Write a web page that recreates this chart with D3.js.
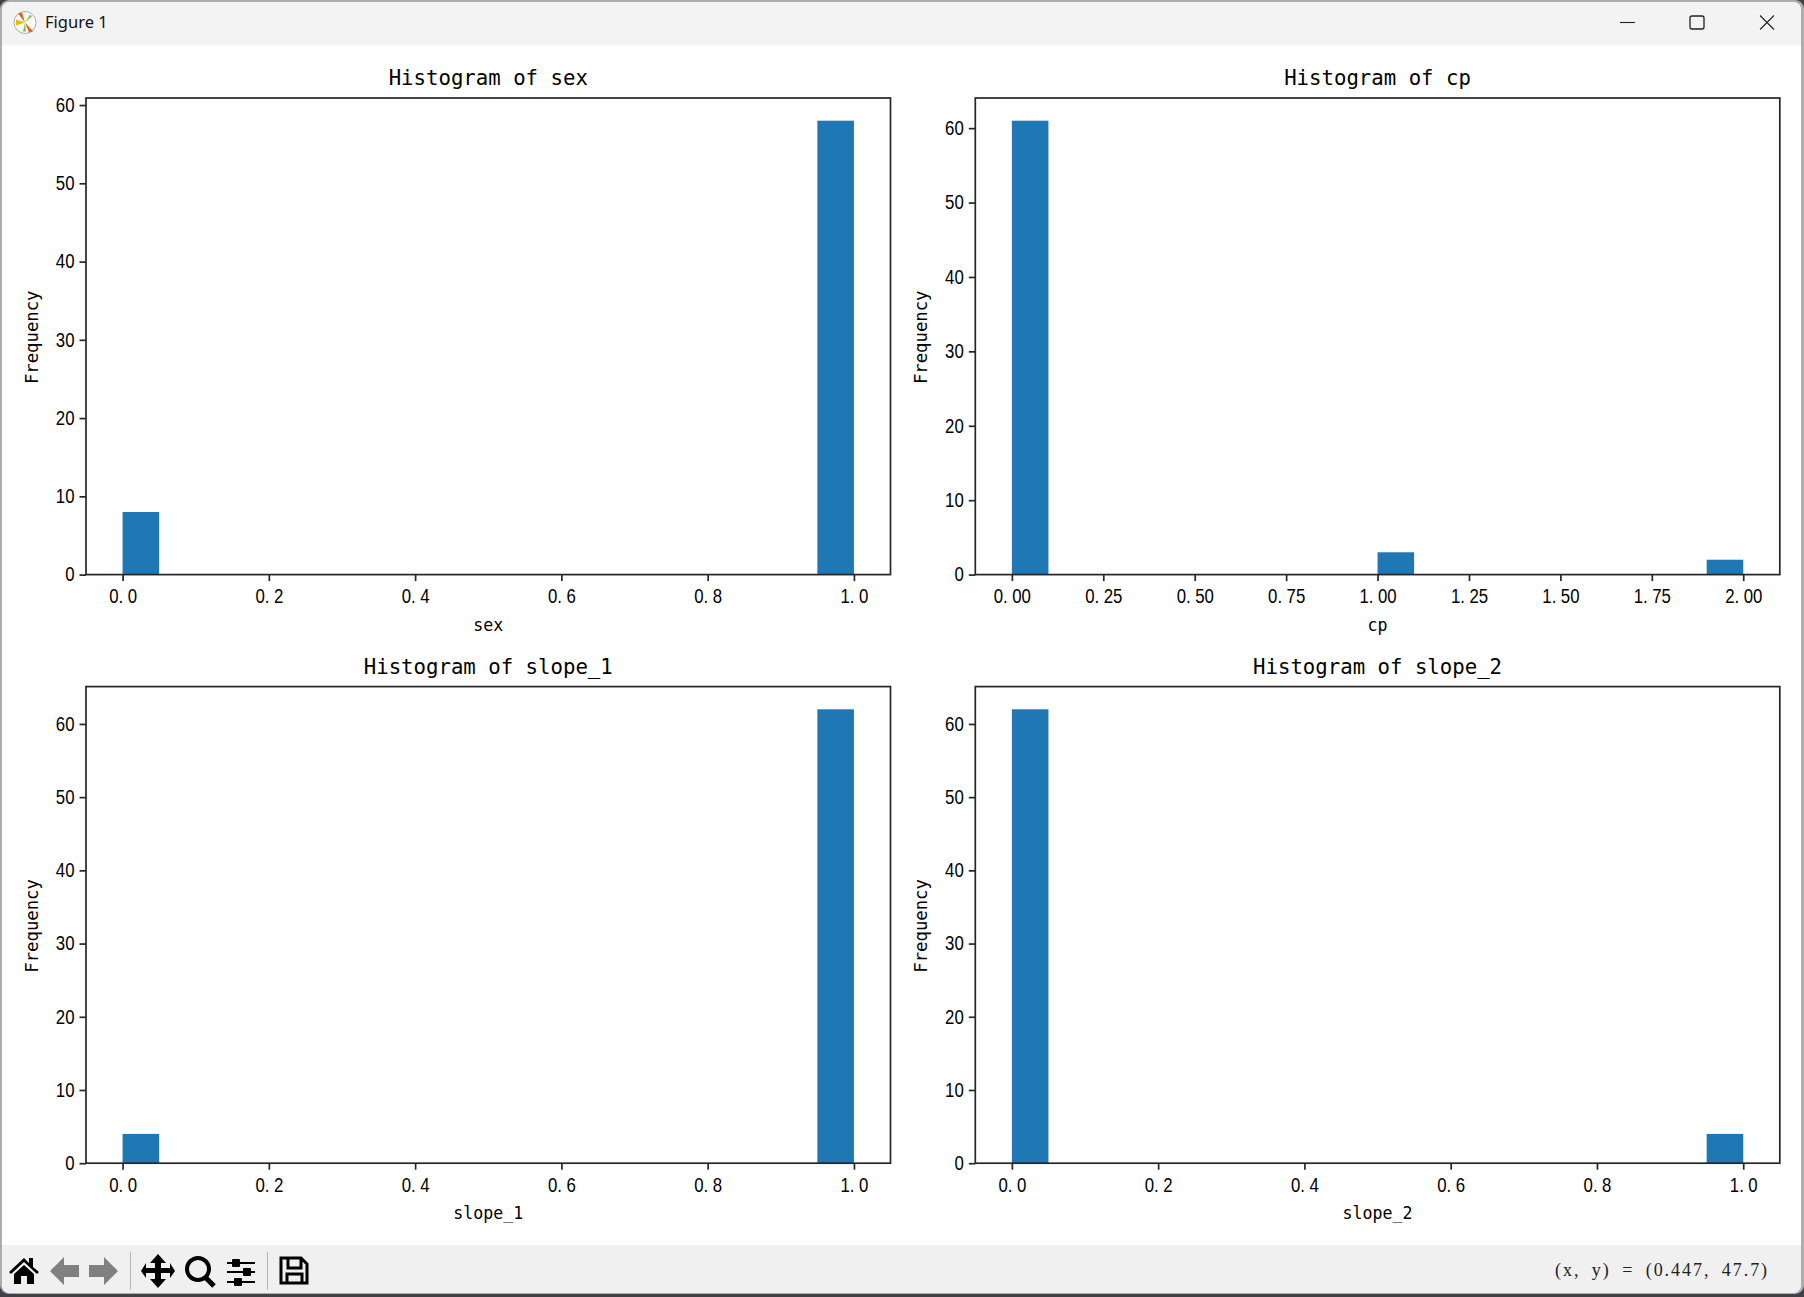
<!DOCTYPE html>
<html><head><meta charset="utf-8">
<script src="https://cdn.jsdelivr.net/npm/d3@7/dist/d3.min.js"></script>
<style>html,body{margin:0;padding:0;background:#3a3f45;overflow:hidden}svg{display:block}</style>
</head><body><svg id="c" width="1804" height="1297"></svg>
<script>
// ---------- data ----------
const titles = ["Histogram of sex","Histogram of cp","Histogram of slope_1","Histogram of slope_2"];
const xLabels = ["sex","cp","slope_1","slope_2"];
const sexBins = [[0,0.05,8],[0.95,1,58]];
const cpBins = [[0,0.1,61],[1,1.1,3],[1.9,2,2]];
const slope1Bins = [[0,0.05,4],[0.95,1,62]];
const slope2Bins = [[0,0.05,62],[0.95,1,4]];
const unitTicks = [0,0.2,0.4,0.6,0.8,1];
const cpTicks = [0,0.25,0.5,0.75,1,1.25,1.5,1.75,2];
const yTicks = [0,10,20,30,40,50,60];
const statusText = "(x, y) = (0.447, 47.7)";

const MONO = "'DejaVu Sans Mono'";
const SANS = "'Liberation Sans'";
const INK = "#262626";
const SQUEEZE = 0.8;
const svg = d3.select("#c");

// ---------- window chrome ----------
svg.append("rect").attr("x",0).attr("y",0).attr("width",1804).attr("height",1297).attr("fill","#3c4248");
svg.append("rect").attr("x",0).attr("y",0).attr("width",1804).attr("height",1294).attr("rx",9).attr("fill","#adadad");
svg.append("rect").attr("x",2).attr("y",2).attr("width",1799).attr("height",1291).attr("rx",8).attr("fill","#ffffff");
svg.append("path").attr("d","M2 45V10a8 8 0 0 1 8-8H1793a8 8 0 0 1 8 8V45Z").attr("fill","#f3f3f3");
svg.append("path").attr("d","M2 1245H1801V1285a8 8 0 0 1-8 8H10a8 8 0 0 1-8-8Z").attr("fill","#f0f0f0");

function cell(sel, adv){
  sel.each(function(){
    const n = this.textContent.length;
    d3.select(this).attr("textLength", n*adv).attr("lengthAdjust","spacingAndGlyphs");
  });
}
// full-width cell for the period, like the reference's face
function spacedTick(sel){
  sel.each(function(){
    const s = this.textContent, t = d3.select(this);
    const i = s.indexOf(".");
    if(i<0) return;
    t.text(null);
    t.append("tspan").text(s.slice(0,i+1));
    t.append("tspan").attr("dx",5.6).text(s.slice(i+1));
  });
}

// ---------- panels ----------
const panels = [
 {bins:sexBins, xd:[-0.05,1.05], xt:unitTicks, xf:d3.format(".1f"), ymax:58*1.05, l:86, t:98},
 {bins:cpBins, xd:[-0.1,2.1], xt:cpTicks, xf:d3.format(".2f"), ymax:61*1.05, l:975.3, t:98},
 {bins:slope1Bins, xd:[-0.05,1.05], xt:unitTicks, xf:d3.format(".1f"), ymax:62*1.05, l:86, t:686.6},
 {bins:slope2Bins, xd:[-0.05,1.05], xt:unitTicks, xf:d3.format(".1f"), ymax:62*1.05, l:975.3, t:686.6}
];
const W = 804.5, H = 476.6;

panels.forEach((p,i)=>{
  const x = d3.scaleLinear().domain(p.xd).range([p.l,p.l+W]);
  const y = d3.scaleLinear().domain([0,p.ymax]).range([p.t+H,p.t]);
  const g = svg.append("g");
  g.selectAll("rect.bar").data(p.bins).join("rect").attr("class","bar")
    .attr("x",d=>x(d[0])).attr("width",d=>x(d[1])-x(d[0]))
    .attr("y",d=>y(d[2])).attr("height",d=>y(0)-y(d[2])).attr("fill","#1f77b4");

  const ax = g.append("g").attr("transform",`translate(0,${p.t+H})`)
    .call(d3.axisBottom(x).tickValues(p.xt).tickFormat(p.xf).tickSize(6.5).tickPadding(6));
  const ay = g.append("g").attr("transform",`translate(${p.l},0)`)
    .call(d3.axisLeft(y).tickValues(yTicks).tickSize(6.5).tickPadding(5));
  [ax,ay].forEach(a=>{
    a.select(".domain").remove();
    a.selectAll("line").attr("stroke",INK).attr("stroke-width",1.7);
    a.selectAll("text").attr("fill","#000").style("font-family",SANS).style("font-size","21px")
      .attr("transform",`scale(${SQUEEZE},1)`);
  });
  ax.selectAll("text").attr("y",13.5).attr("dy","0.71em").call(spacedTick);
  ay.selectAll("text").attr("x",-11.5/SQUEEZE).attr("dy","0.3em");

  g.append("rect").attr("x",p.l).attr("y",p.t).attr("width",W).attr("height",H)
    .attr("fill","none").attr("stroke",INK).attr("stroke-width",1.7);

  g.append("text").attr("x",p.l+W/2).attr("y",p.t-13).attr("text-anchor","middle")
    .style("font-family",MONO).style("font-size","22px").text(titles[i]).call(cell,12.45);
  g.append("text").attr("x",p.l+W/2).attr("y",p.t+H+56).attr("text-anchor","middle")
    .style("font-family",MONO).style("font-size","17px").text(xLabels[i]).call(cell,10);
  g.append("text").attr("transform",`translate(${p.l-53.5},${p.t+H/2+1}) rotate(-90)`).attr("dy","0.33em")
    .attr("text-anchor","middle").style("font-family",MONO).style("font-size","17px").text("Frequency").call(cell,10.4);
});

// ---------- title bar ----------
const logo = svg.append("g").attr("transform","translate(25,22.5)");
logo.append("circle").attr("r",11).attr("fill","#fff").attr("stroke","#aaa").attr("stroke-width",1);
[["M0 0L-7 -9L-3 -10Z","#e8601c"],["M0 0L8 9L4 10Z","#e8601c"],["M0 0L-9 -3L-9 3Z","#f2b800"],["M0 0L5 -8L7 -6Z","#8fc94a"],["M0 0L-2 9L1 9Z","#7cc35c"]]
  .forEach(d=>logo.append("path").attr("d",d[0]).attr("fill",d[1]));
svg.append("text").attr("x",45).attr("y",28).style("font-family","'Noto Sans'").style("font-size","16.5px").attr("fill","#111").text("Figure 1");
const cc = svg.append("g").attr("fill","none").attr("stroke","#222").attr("stroke-width",1.1);
cc.append("path").attr("d","M1620 22.5H1635");
cc.append("rect").attr("x",1690).attr("y",16).attr("width",14).attr("height",13).attr("rx",2).attr("stroke-width",1.3);
cc.append("path").attr("d","M1760 15.5L1774 29.5M1774 15.5L1760 29.5");

// ---------- toolbar ----------
const tb = svg.append("g");
tb.append("path").attr("fill","#000").attr("d","M9 1272L24 1258L29 1263V1258H33V1267L39 1272L37 1274L24 1262L11 1274ZM14 1274L24 1265L34 1274V1284H27V1276H21V1284H14Z");
[["M50 1271L64 1257V1265H79V1277H64V1285Z"],["M118 1271L104 1257V1265H89V1277H104V1285Z"]]
  .forEach(d=>tb.append("path").attr("d",d[0]).attr("fill","#808080"));
tb.append("rect").attr("x",130).attr("y",1252).attr("width",1).attr("height",38).attr("fill","#b5b5b5");
tb.append("path").attr("fill","#000").attr("d","M158 1254L166 1263H161V1268H170V1263L175 1271L170 1278V1273H161V1279H166L158 1288L150 1279H155V1273H146V1278L141 1271L146 1263V1268H155V1263H150Z");
tb.append("circle").attr("cx",198).attr("cy",1269).attr("r",11).attr("fill","none").attr("stroke","#000").attr("stroke-width",4);
tb.append("path").attr("d","M205 1277L214 1286").attr("stroke","#000").attr("stroke-width",5);
const sl = tb.append("g");
[[1263,235],[1272,246],[1282,237]].forEach(d=>{
  sl.append("path").attr("d",`M227 ${d[0]}H255`).attr("stroke","#000").attr("stroke-width",2);
  sl.append("rect").attr("x",d[1]-3).attr("y",d[0]-4).attr("width",8).attr("height",8).attr("rx",1).attr("fill","#000");
});
tb.append("rect").attr("x",267).attr("y",1252).attr("width",1).attr("height",38).attr("fill","#b5b5b5");
tb.append("path").attr("fill","none").attr("stroke","#000").attr("stroke-width",3)
  .attr("d","M281 1258H301L307 1264V1283H281ZM288 1258V1268H301V1258M287 1283V1274H302V1283");
svg.append("text").attr("x",1555).attr("y",1276).style("font-family","'Liberation Serif'")
  .style("font-size","18px").style("letter-spacing","1.95px").style("word-spacing","5px").attr("fill","#222").text(statusText);
</script></body></html>
